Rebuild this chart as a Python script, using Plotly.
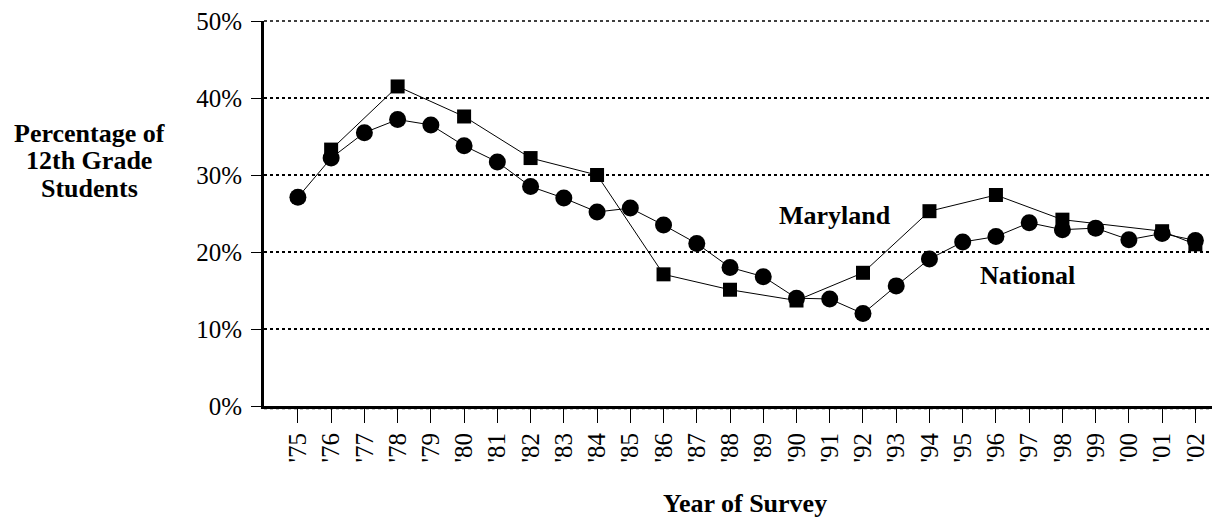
import plotly.graph_objects as go

years = ["'75", "'76", "'77", "'78", "'79", "'80", "'81", "'82", "'83", "'84",
         "'85", "'86", "'87", "'88", "'89", "'90", "'91", "'92", "'93", "'94",
         "'95", "'96", "'97", "'98", "'99", "'00", "'01", "'02"]

national = [27.1, 32.2, 35.5, 37.2, 36.5, 33.8, 31.7, 28.5, 27.0, 25.2,
            25.7, 23.5, 21.1, 18.0, 16.8, 14.0, 13.9, 12.0, 15.6, 19.1,
            21.3, 22.0, 23.8, 22.9, 23.1, 21.6, 22.4, 21.5]

maryland_years = ["'76", "'78", "'80", "'82", "'84", "'86", "'88", "'90", "'92",
                  "'94", "'96", "'98", "'01", "'02"]
maryland = [33.3, 41.5, 37.6, 32.2, 30.0, 17.1, 15.1, 13.7, 17.3,
            25.3, 27.4, 24.2, 22.7, 21.0]

y_ticks = [0, 10, 20, 30, 40, 50]
y_labels = ["0%", "10%", "20%", "30%", "40%", "50%"]

y_title_lines = ["Percentage of", "12th Grade", "Students"]

idx = {y: i for i, y in enumerate(years)}
x_nat = list(range(len(years)))
x_md = [idx[y] for y in maryland_years]

FONT = "Liberation Serif"
PLOT_TOP, PLOT_BOTTOM, PLOT_LEFT, PLOT_RIGHT = 21, 406, 264, 1212
PH = PLOT_BOTTOM - PLOT_TOP
PW = PLOT_RIGHT - PLOT_LEFT

fig = go.Figure()
fig.add_trace(go.Scatter(x=x_md, y=maryland, mode="lines+markers", name="Maryland",
                         line=dict(color="black", width=1),
                         marker=dict(symbol="square", size=14, color="black")))
fig.add_trace(go.Scatter(x=x_nat, y=national, mode="lines+markers", name="National",
                         line=dict(color="black", width=1),
                         marker=dict(symbol="circle", size=17, color="black")))

fig.update_layout(
    width=1214, height=518,
    margin=dict(l=PLOT_LEFT, r=1214 - PLOT_RIGHT, t=PLOT_TOP, b=518 - PLOT_BOTTOM),
    paper_bgcolor="white", plot_bgcolor="white",
    showlegend=False,
    font=dict(family=FONT, color="black", size=22),
)
fig.update_xaxes(
    range=[-1.02, 27.5], automargin=False,
    tickmode="array", tickvals=x_nat, ticktext=years, tickangle=-90,
    ticks="outside", ticklen=14, tickwidth=1, tickcolor="black",
    showline=True, linewidth=3, linecolor="black",
    showgrid=False, zeroline=False,
    tickfont=dict(family=FONT, size=25, color="black"),
)
fig.update_yaxes(
    range=[0, 50], automargin=False,
    tickmode="array", tickvals=y_ticks, ticktext=y_labels,
    ticks="outside", ticklen=10, tickwidth=1, tickcolor="black",
    showline=True, linewidth=3, linecolor="black",
    showgrid=True, gridcolor="black", gridwidth=1.5, griddash="dot",
    zeroline=False,
    tickfont=dict(family=FONT, size=25, color="black"),
    ticklabelstandoff=4,
)
# top gridline at 50% (plotly omits the gridline on the edge)
fig.add_shape(type="line", xref="paper", yref="paper", x0=0, x1=1, y0=1, y1=1,
              line=dict(color="black", width=1.5, dash="dot"), layer="below")
# dotted 0% gridline peeking just below the thick axis line
fig.add_shape(type="line", xref="paper", yref="paper", x0=0, x1=1,
              y0=-2.5 / PH, y1=-2.5 / PH,
              line=dict(color="black", width=1.5, dash="dot"), layer="below")

for line_text, ypix in zip(y_title_lines, [133, 160, 188]):
    fig.add_annotation(text="<b>" + line_text + "</b>",
                       xref="paper", yref="paper",
                       x=(89 - PLOT_LEFT) / PW, y=(PLOT_BOTTOM - ypix) / PH,
                       xanchor="center", yanchor="middle", showarrow=False,
                       font=dict(family=FONT, size=26, color="black"))
fig.add_annotation(text="<b>Year of Survey</b>",
                   xref="paper", yref="paper",
                   x=(745 - PLOT_LEFT) / PW, y=-(503 - PLOT_BOTTOM) / PH,
                   xanchor="center", yanchor="middle", showarrow=False,
                   font=dict(family=FONT, size=26, color="black"))
fig.add_annotation(text="<b>Maryland</b>", x=16.15, y=24.7,
                   xanchor="center", yanchor="middle", showarrow=False,
                   font=dict(family=FONT, size=26, color="black"))
fig.add_annotation(text="<b>National</b>", x=21.95, y=17.0,
                   xanchor="center", yanchor="middle", showarrow=False,
                   font=dict(family=FONT, size=26, color="black"))

fig.write_html("out.html", config={"displayModeBar": False},
               post_script="document.body.style.margin='0';document.body.style.overflow='hidden';")
